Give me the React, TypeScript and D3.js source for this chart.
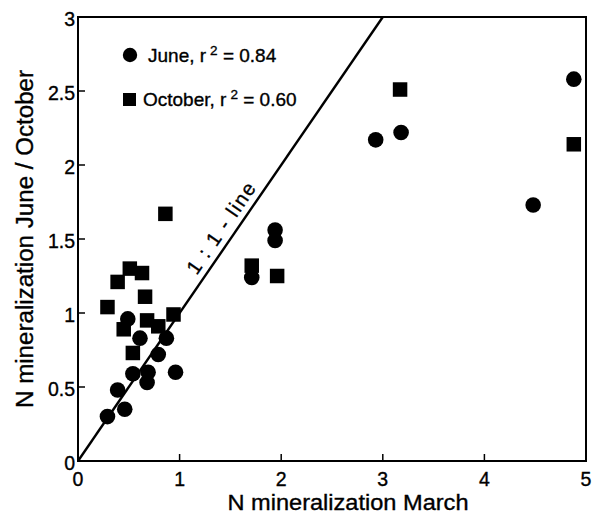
import React from "react";
import * as d3 from "d3";

const juneX = [0.29, 0.39, 0.46, 0.54, 0.68, 0.69, 0.96, 0.79, 0.61, 0.87, 0.49, 1.71, 1.94, 1.94, 2.93, 3.18, 4.48, 4.88];
const juneY = [0.30, 0.48, 0.35, 0.59, 0.53, 0.60, 0.60, 0.72, 0.83, 0.83, 0.96, 1.24, 1.49, 1.56, 2.17, 2.22, 1.73, 2.58];
const octX = [0.29, 0.39, 0.51, 0.63, 0.66, 0.68, 0.79, 0.94, 0.45, 0.54, 0.86, 1.71, 1.96, 3.17, 4.88];
const octY = [1.04, 1.21, 1.30, 1.27, 1.11, 0.95, 0.91, 0.99, 0.89, 0.73, 1.67, 1.32, 1.25, 2.51, 2.14];
const xTicks = [0, 1, 2, 3, 4, 5];
const yTicks = [0, 0.5, 1, 1.5, 2, 2.5, 3];
const legendLabels = [
  { pre: "June, r", sup: "2", post: " = 0.84" },
  { pre: "October, r", sup: "2", post: " = 0.60" },
];

const W = 592;
const H = 514;
const FONT = "'Liberation Sans', Arial, sans-serif";

export default function App() {
  const x = d3.scaleLinear().domain([0, 5]).range([78, 586]);
  const y = d3.scaleLinear().domain([0, 3]).range([461, 17]);
  const june = juneX.map((v, i) => [v, juneY[i]]);
  const oct = octX.map((v, i) => [v, octY[i]]);
  const angle = (Math.atan2(y(0) - y(3), x(3) - x(0)) * 180) / Math.PI;
  const sq = 14.5;
  const txt = { fill: "#000", stroke: "#000", strokeWidth: 0.35 };

  return (
    <svg width={W} height={H} style={{ position: "absolute", left: 0, top: 0, background: "#fff" }} fontFamily={FONT}>
      <rect x={0} y={0} width={W} height={H} fill="#fff" />
      {/* frame */}
      <rect x={x(0)} y={y(3)} width={x(5) - x(0)} height={y(0) - y(3)} fill="none" stroke="#000" strokeWidth={2} />
      {/* ticks */}
      {xTicks.map((t) => (
        <g key={"xt" + t}>
          <line x1={x(t)} x2={x(t)} y1={y(0)} y2={y(0) - 7} stroke="#000" strokeWidth={1.5} />
          <text x={x(t)} y={486} fontSize={19.5} textAnchor="middle" {...txt}>{String(t)}</text>
        </g>
      ))}
      {yTicks.map((t) => (
        <g key={"yt" + t}>
          <line x1={x(0)} x2={x(0) + 7} y1={y(t)} y2={y(t)} stroke="#000" strokeWidth={1.5} />
          <text x={75} y={y(t) + 8.5} fontSize={19.5} textAnchor="end" {...txt}>{String(t)}</text>
        </g>
      ))}
      {/* 1:1 line */}
      <line x1={x(0)} y1={y(0)} x2={x(3)} y2={y(3)} stroke="#000" strokeWidth={2.4} />
      <text
        transform={`translate(${x(1.52)},${y(1.52)}) rotate(${-angle})`}
        x={0}
        y={-7}
        fontSize={20}
        textAnchor="middle"
        textLength={106}
        lengthAdjust="spacing"
        {...txt}
      >
        1 : 1 - line
      </text>
      {/* points */}
      {june.map((d, i) => (
        <circle key={"j" + i} cx={x(d[0])} cy={y(d[1])} r={7.8} fill="#000" />
      ))}
      {oct.map((d, i) => (
        <rect key={"o" + i} x={x(d[0]) - sq / 2} y={y(d[1]) - sq / 2} width={sq} height={sq} fill="#000" />
      ))}
      {/* legend */}
      <circle cx={130} cy={55} r={7.2} fill="#000" />
      <rect x={123} y={93} width={13} height={13} fill="#000" />
      {legendLabels.map((l, i) => (
        <text key={"lg" + i} x={i === 0 ? 148 : 143} y={i === 0 ? 62 : 106} fontSize={19} {...txt}>
          {l.pre}
          <tspan dx={4} dy={-7} fontSize={13.5}>{l.sup}</tspan>
          <tspan dy={7}>{l.post}</tspan>
        </text>
      ))}
      {/* axis titles */}
      <text x={348} y={510} fontSize={22} textAnchor="middle" textLength={241} lengthAdjust="spacingAndGlyphs" {...txt}>
        N mineralization March
      </text>
      <text
        transform={`translate(33,239) rotate(-90)`}
        fontSize={23}
        textAnchor="middle"
        textLength={338}
        lengthAdjust="spacingAndGlyphs"
        {...txt}
      >
        N mineralization June / October
      </text>
    </svg>
  );
}
